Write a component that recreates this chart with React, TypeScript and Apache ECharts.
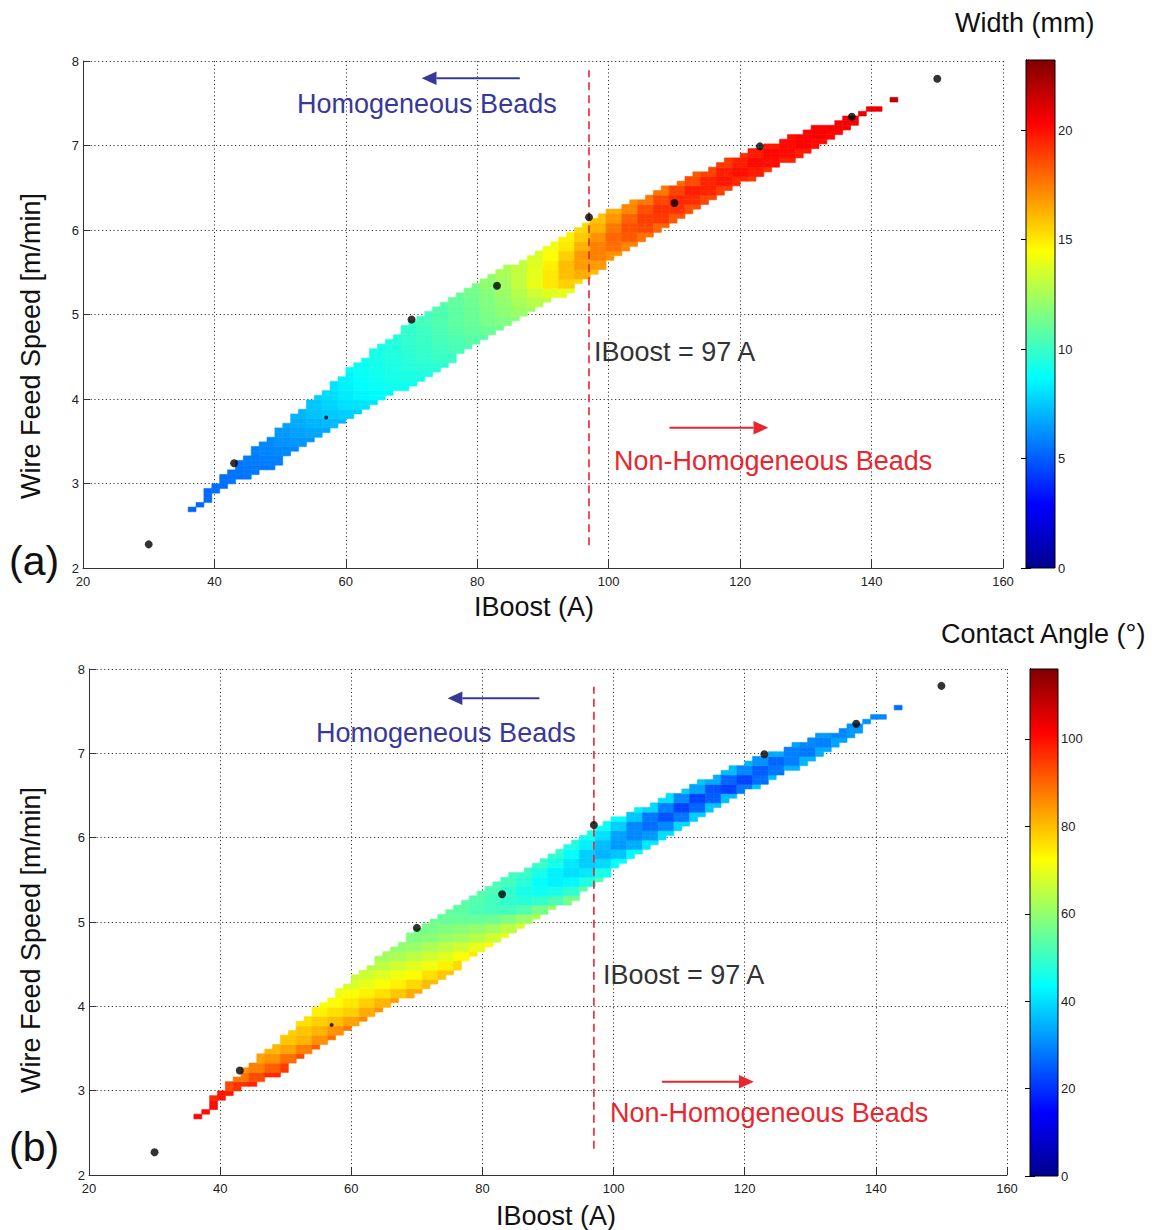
import React, { useEffect, useRef } from "react";
import * as echarts from "echarts";

// ---- surface grid (nodes of the fitted map, read from the stair steps) ----
const GRID_X0 = 30; // A
const GRID_DX = 1.2; // A per column
const GRID_Y0 = 2.28; // m/min
const GRID_DY = 0.0551; // m/min per row
const FIRST_ROW = 7;

// feasible band: first / last column index of every grid row (from FIRST_ROW)
const bandRows: number[][] = [
  [5, 5], [6, 6], [7, 7], [7, 7], [7, 8], [8, 9], [9, 10], [9, 12], [10, 13], [11, 15],
  [11, 16], [12, 16], [13, 17], [13, 18], [14, 19], [15, 20], [16, 21], [16, 22], [17, 23], [18, 24],
  [18, 25], [19, 26], [20, 27], [20, 28], [21, 29], [22, 30], [23, 32], [23, 33], [24, 34], [25, 35],
  [25, 36], [26, 37], [27, 38], [28, 38], [28, 39], [29, 40], [30, 41], [31, 42], [32, 43], [32, 44],
  [33, 45], [34, 46], [35, 47], [36, 48], [37, 49], [38, 50], [39, 52], [40, 53], [41, 53], [42, 54],
  [43, 55], [44, 56], [45, 57], [47, 57], [48, 58], [49, 59], [50, 60], [51, 61], [52, 62], [53, 63],
  [54, 64], [55, 65], [56, 66], [57, 67], [58, 68], [60, 69], [61, 70], [63, 71], [64, 72], [65, 73],
  [67, 74], [68, 76], [69, 77], [71, 78], [72, 79], [73, 81], [75, 82], [76, 83], [78, 84], [80, 85],
  [81, 86], [83, 87], [84, 88], [87, 89], [88, 89], [90, 90], [91, 92], [-1, -2], [94, 94],
];

// Width (mm): per pair of rows -> [first block column (2 grid columns each), values...]
const widthBlocks: number[][] = [
  [2, 5.2, 5.3],
  [3, 5.3],
  [3, 5.3, 5.4],
  [4, 5.4, 5.5, 5.5],
  [5, 5.5, 5.6, 5.6],
  [5, 5.6, 5.7, 5.8, 5.8],
  [6, 5.8, 5.9, 6.0, 6.0],
  [7, 6.0, 6.2, 6.3, 6.3],
  [8, 6.4, 6.6, 6.7, 6.7],
  [8, 6.6, 6.8, 7.0, 7.1, 7.1],
  [9, 7.0, 7.3, 7.5, 7.6, 7.6],
  [10, 7.4, 7.7, 8.0, 8.1, 8.1],
  [10, 7.7, 7.9, 8.3, 8.5, 8.6, 8.6],
  [11, 8.1, 8.4, 8.7, 8.9, 9.0, 9.0],
  [12, 8.5, 8.8, 9.0, 9.2, 9.3, 9.3],
  [12, 8.7, 8.9, 9.1, 9.3, 9.5, 9.6, 9.6],
  [13, 9.0, 9.2, 9.4, 9.6, 9.8, 10.0, 10.0],
  [14, 9.2, 9.4, 9.7, 9.9, 10.1, 10.3, 10.3],
  [15, 9.5, 9.8, 10.0, 10.3, 10.5, 10.7, 10.7],
  [16, 9.8, 10.1, 10.4, 10.7, 10.9, 11.1, 11.2],
  [16, 10.0, 10.2, 10.5, 10.8, 11.1, 11.4, 11.6, 11.7],
  [17, 10.2, 10.5, 10.8, 11.1, 11.5, 11.9, 12.2, 12.3],
  [18, 10.6, 10.9, 11.2, 11.6, 12.0, 12.5, 12.9, 13.0],
  [19, 11.0, 11.3, 11.7, 12.2, 12.8, 13.4, 13.8, 13.9],
  [20, 11.5, 11.9, 12.4, 13.1, 14.0, 15.0, 15.6, 15.3],
  [21, 12.0, 12.5, 13.1, 13.9, 15.0, 16.0, 16.4, 16.0],
  [22, 12.6, 13.1, 13.8, 14.8, 16.0, 16.8, 16.8],
  [24, 13.6, 14.4, 15.6, 16.8, 17.4, 17.0],
  [25, 14.2, 15.0, 16.3, 17.4, 17.8, 17.3],
  [26, 14.8, 15.7, 17.0, 18.0, 18.3, 17.7],
  [27, 15.4, 16.3, 17.6, 18.5, 18.7, 18.0],
  [28, 15.9, 16.9, 18.1, 18.9, 19.0, 18.3],
  [29, 16.4, 17.3, 18.5, 19.2, 19.2, 18.5],
  [30, 17.0, 17.6, 18.7, 19.4, 19.3, 18.7],
  [32, 17.6, 18.8, 19.6, 19.5, 18.9],
  [33, 17.9, 18.6, 19.5, 19.8, 19.4, 19.0],
  [34, 18.3, 18.8, 19.6, 20.0, 19.7, 19.2],
  [36, 19.0, 19.6, 20.1, 20.0, 19.5],
  [37, 19.3, 19.7, 20.2, 20.1, 19.7],
  [39, 19.7, 20.1, 20.3, 20.0],
  [40, 20.0, 20.2, 20.4, 20.2],
  [42, 20.3, 20.5, 20.5],
  [44, 20.6, 20.7],
  [45, 20.7, 20.8],
  [47, 21.8],
];

// Contact angle (deg): same layout
const angleBlocks: number[][] = [
  [2, 101, 100],
  [3, 100],
  [3, 97, 99],
  [4, 93, 96, 98],
  [5, 88, 93, 97],
  [5, 85, 87, 91, 95],
  [6, 83, 85, 89, 93],
  [7, 81, 83, 87, 91],
  [8, 79, 81, 85, 89],
  [8, 78, 79, 81, 85, 88],
  [9, 76, 78, 80, 83, 86],
  [10, 74, 76, 78, 82, 85],
  [10, 72, 73, 75, 78, 81, 84],
  [11, 70, 72, 74, 76, 79, 82],
  [12, 68, 70, 72, 74, 77, 80],
  [12, 66, 67, 69, 71, 73, 76, 79],
  [13, 64, 65, 67, 69, 71, 74, 77],
  [14, 62, 63, 65, 67, 69, 72, 75],
  [15, 60, 61, 63, 65, 67, 70, 73],
  [16, 58, 59, 61, 62, 64, 67, 70],
  [16, 57, 57, 58, 59, 60, 62, 65, 68],
  [17, 56, 55, 55, 55, 56, 58, 61, 64],
  [18, 55, 54, 52, 51, 51, 53, 57, 61],
  [19, 54, 53, 51, 49, 48, 49, 52, 57],
  [20, 53, 52, 49, 46, 45, 46, 49, 54],
  [21, 52, 51, 48, 44, 42, 43, 47, 52],
  [22, 51, 50, 46, 42, 40, 41, 46],
  [24, 50, 46, 41, 38, 39, 44],
  [25, 49, 44, 38, 35, 37, 43],
  [26, 47, 42, 36, 32, 34, 41],
  [27, 46, 40, 33, 30, 32, 40],
  [28, 45, 38, 30, 27, 30, 39],
  [29, 44, 37, 28, 24, 28, 38],
  [30, 42, 39, 29, 22, 26, 37],
  [32, 40, 30, 22, 25, 36],
  [33, 38, 33, 24, 22, 28, 37],
  [34, 37, 34, 26, 22, 27, 36],
  [36, 36, 30, 25, 28, 35],
  [37, 35, 31, 26, 29, 35],
  [39, 34, 29, 28, 34],
  [40, 33, 30, 29, 33],
  [42, 32, 30, 32],
  [44, 31, 31],
  [45, 30, 30],
  [47, 27],
];

// experimental points
const expIBoost = [30, 43, 57, 70, 83, 97, 110, 123, 137, 150];
const expWfsA = [2.28, 3.24, 3.78, 4.94, 5.34, 6.15, 6.32, 6.99, 7.34, 7.79];
const expWfsB = [2.27, 3.24, 3.78, 4.93, 5.33, 6.15, 6.32, 6.99, 7.35, 7.8];
// marker visibility (partly hidden behind the surface)
const markerA = [8, 8, 4, 8, 8, 8, 8, 8, 8, 8];
const markerB = [8, 8, 4, 8, 8, 8, 0, 8, 8, 8];

const limitIBoost = 97;
const limitSpanA = [2.27, 7.89];
const limitSpanB = [2.31, 7.79];

const xTicks = { min: 20, max: 160, interval: 20 };
const yTicks = { min: 2, max: 8, interval: 1 };
const widthRange = { min: 0, max: 23.2, interval: 5 };
const angleRange = { min: 0, max: 116, interval: 20 };

const JET = ["#00008F", "#0000FF", "#0080FF", "#00FFFF", "#80FF80", "#FFFF00", "#FF8000", "#FF0000", "#800000"];
const FONT = '"Liberation Sans", Arial, Helvetica, sans-serif';

function buildCells(blocks: number[][]) {
  const cells: number[][] = [];
  bandRows.forEach(([s, e], r) => {
    const j = FIRST_ROW + r;
    const blk = blocks[Math.floor(r / 2)];
    for (let i = s; i <= e; i++) {
      let k = Math.floor(i / 2) - blk[0];
      k = Math.max(0, Math.min(blk.length - 2, k));
      cells.push([
        GRID_X0 + GRID_DX * i,
        GRID_X0 + GRID_DX * (i + 1),
        GRID_Y0 + GRID_DY * j,
        GRID_Y0 + GRID_DY * (j + 1),
        blk[1 + k],
      ]);
    }
  });
  return cells;
}

const cellRender = (_p: any, api: any) => {
  const a = api.coord([api.value(0), api.value(3)]);
  const b = api.coord([api.value(1), api.value(2)]);
  const c = api.visual("color");
  return {
    type: "rect",
    shape: { x: a[0], y: a[1], width: b[0] - a[0], height: b[1] - a[1] },
    style: { fill: c, stroke: c, lineWidth: 0.6 },
  };
};

const barRender = (_p: any, api: any) => {
  const a = api.coord([0, api.value(1)]);
  const b = api.coord([1, api.value(0)]);
  const stops = JET.map((c, i) => ({ offset: i / (JET.length - 1), color: c }));
  return {
    type: "rect",
    shape: { x: a[0], y: a[1], width: b[0] - a[0], height: b[1] - a[1] },
    style: { fill: new echarts.graphic.LinearGradient(0, 1, 0, 0, stops), stroke: "#000", lineWidth: 1 },
  };
};

const mainX = (gridIndex: number) => ({
  type: "value", gridIndex, ...xTicks,
  axisLine: { show: true, lineStyle: { color: "#333", width: 1 } },
  axisTick: { show: true, inside: true, length: 8, lineStyle: { color: "#333" } },
  axisLabel: { fontSize: 13, color: "#222", margin: 7, fontFamily: FONT },
  splitLine: { show: true, lineStyle: { color: "#3a3a3a", width: 1, type: [1.2, 2.6] } },
});
const mainY = (gridIndex: number) => ({
  type: "value", gridIndex, ...yTicks,
  axisLine: { show: true, lineStyle: { color: "#333", width: 1 } },
  axisTick: { show: true, inside: true, length: 7, lineStyle: { color: "#333" } },
  axisLabel: { fontSize: 13, color: "#222", margin: 4, fontFamily: FONT, padding: [0, 0, 3, 0] },
  splitLine: { show: true, lineStyle: { color: "#3a3a3a", width: 1, type: [1.2, 2.6] } },
});
const barX = (gridIndex: number) => ({ type: "value", gridIndex, min: 0, max: 1, show: false });
const barY = (gridIndex: number, rng: any, position: string, labels: boolean) => ({
  type: "value", gridIndex, ...rng, position,
  axisLine: { show: true, lineStyle: { color: "#000" } },
  axisTick: { show: true, inside: true, length: 5, lineStyle: { color: "#000" } },
  axisLabel: { show: labels, fontSize: 13, color: "#222", margin: 3, showMaxLabel: false, fontFamily: FONT },
  splitLine: { show: false },
});

const txt = (text: string, x: number, y: number, fill: string, size: number, extra: any = {}) => ({
  type: "text", x, y, z: 100, ...extra,
  style: {
    text, fill, font: `${size}px ${FONT}`,
    align: extra.align || "left", verticalAlign: "middle",
    textAlign: extra.align || "left", textVerticalAlign: "middle",
  },
});
const arrow = (x1: number, x2: number, y: number, color: string) => {
  const dir = x2 > x1 ? 1 : -1;
  const hx = x2 - dir * 14.8;
  return [
    { type: "line", z: 100, shape: { x1, y1: y, x2: hx, y2: y }, style: { stroke: color, lineWidth: 2 } },
    { type: "polygon", z: 100, shape: { points: [[x2, y], [hx, y - 6.8], [hx, y + 6.8]] }, style: { fill: color } },
  ];
};

const BLUE = "#38389a";
const RED = "#e8262e";
const DARK = "#333333";

export default function App() {
  const ref = useRef<HTMLDivElement>(null);
  useEffect(() => {
    if (!ref.current) return;
    const chart = echarts.init(ref.current, undefined, { renderer: "svg" });
    const cellsA = buildCells(widthBlocks);
    const cellsB = buildCells(angleBlocks);
    const ptsA = expIBoost.map((x, i) => ({ value: [x, expWfsA[i]], symbolSize: markerA[i] }));
    const ptsB = expIBoost.map((x, i) => ({ value: [x, expWfsB[i]], symbolSize: markerB[i] }));

    const option: any = {
      animation: false,
      backgroundColor: "#fff",
      grid: [
        { left: 83, top: 61, width: 920, height: 507 },
        { left: 1026, top: 60, width: 29, height: 508 },
        { left: 89, top: 669, width: 918, height: 506 },
        { left: 1030, top: 669, width: 28, height: 507 },
      ],
      xAxis: [mainX(0), barX(1), mainX(2), barX(3)],
      yAxis: [
        mainY(0),
        barY(1, widthRange, "right", true),
        barY(1, widthRange, "left", false),
        mainY(2),
        barY(3, angleRange, "right", true),
        barY(3, angleRange, "left", false),
      ],
      visualMap: [
        { type: "continuous", show: false, seriesIndex: 0, dimension: 4, min: widthRange.min, max: widthRange.max, inRange: { color: JET } },
        { type: "continuous", show: false, seriesIndex: 1, dimension: 4, min: angleRange.min, max: angleRange.max, inRange: { color: JET } },
      ],
      series: [
        { type: "custom", xAxisIndex: 0, yAxisIndex: 0, data: cellsA, renderItem: cellRender, encode: { x: [0, 1], y: [2, 3] }, z: 2 },
        { type: "custom", xAxisIndex: 2, yAxisIndex: 3, data: cellsB, renderItem: cellRender, encode: { x: [0, 1], y: [2, 3] }, z: 2 },
        {
          type: "line", xAxisIndex: 0, yAxisIndex: 0, symbol: "none", z: 4,
          data: [[limitIBoost, limitSpanA[0]], [limitIBoost, limitSpanA[1]]],
          lineStyle: { color: RED, width: 1.6, type: [8, 5] },
        },
        {
          type: "line", xAxisIndex: 2, yAxisIndex: 3, symbol: "none", z: 4,
          data: [[limitIBoost, limitSpanB[0]], [limitIBoost, limitSpanB[1]]],
          lineStyle: { color: RED, width: 1.6, type: [8, 5] },
        },
        { type: "scatter", xAxisIndex: 0, yAxisIndex: 0, data: ptsA, symbol: "circle", itemStyle: { color: "#000" }, z: 5 },
        { type: "scatter", xAxisIndex: 2, yAxisIndex: 3, data: ptsB, symbol: "circle", itemStyle: { color: "#000" }, z: 5 },
        { type: "custom", xAxisIndex: 1, yAxisIndex: 1, data: [[widthRange.min, widthRange.max]], renderItem: barRender, z: 2 },
        { type: "custom", xAxisIndex: 3, yAxisIndex: 4, data: [[angleRange.min, angleRange.max]], renderItem: barRender, z: 2 },
      ],
      graphic: [
        // panel (a)
        txt("Width (mm)", 955, 23, "#111", 27),
        txt("Wire Feed Speed [m/min]", 31, 346, "#111", 27, { rotation: Math.PI / 2, align: "center" }),
        txt("IBoost (A)", 534, 607, "#111", 27, { align: "center" }),
        txt("(a)", 9, 561, "#111", 41),
        txt("Homogeneous Beads", 297, 104, BLUE, 27),
        txt("IBoost = 97 A", 594, 352, DARK, 27),
        txt("Non-Homogeneous Beads", 614, 461, RED, 27),
        ...arrow(519.8, 421.7, 78.3, BLUE),
        ...arrow(669.5, 768.3, 427.7, RED),
        // panel (b)
        txt("Contact Angle (°)", 941, 634, "#111", 27),
        txt("Wire Feed Speed [m/min]", 31, 940, "#111", 27, { rotation: Math.PI / 2, align: "center" }),
        txt("IBoost (A)", 556, 1216, "#111", 27, { align: "center" }),
        txt("(b)", 9, 1147, "#111", 41),
        txt("Homogeneous Beads", 316, 733, BLUE, 27),
        txt("IBoost = 97 A", 603, 975, DARK, 27),
        txt("Non-Homogeneous Beads", 610, 1113, RED, 27),
        ...arrow(539.4, 447.6, 698.3, BLUE),
        ...arrow(661.9, 753.8, 1081.7, RED),
      ],
    };
    chart.setOption(option);
    return () => chart.dispose();
  }, []);
  return (
    <div
      ref={ref}
      style={{ position: "fixed", left: 0, top: 0, width: 1156, height: 1230, background: "#fff" }}
    />
  );
}
